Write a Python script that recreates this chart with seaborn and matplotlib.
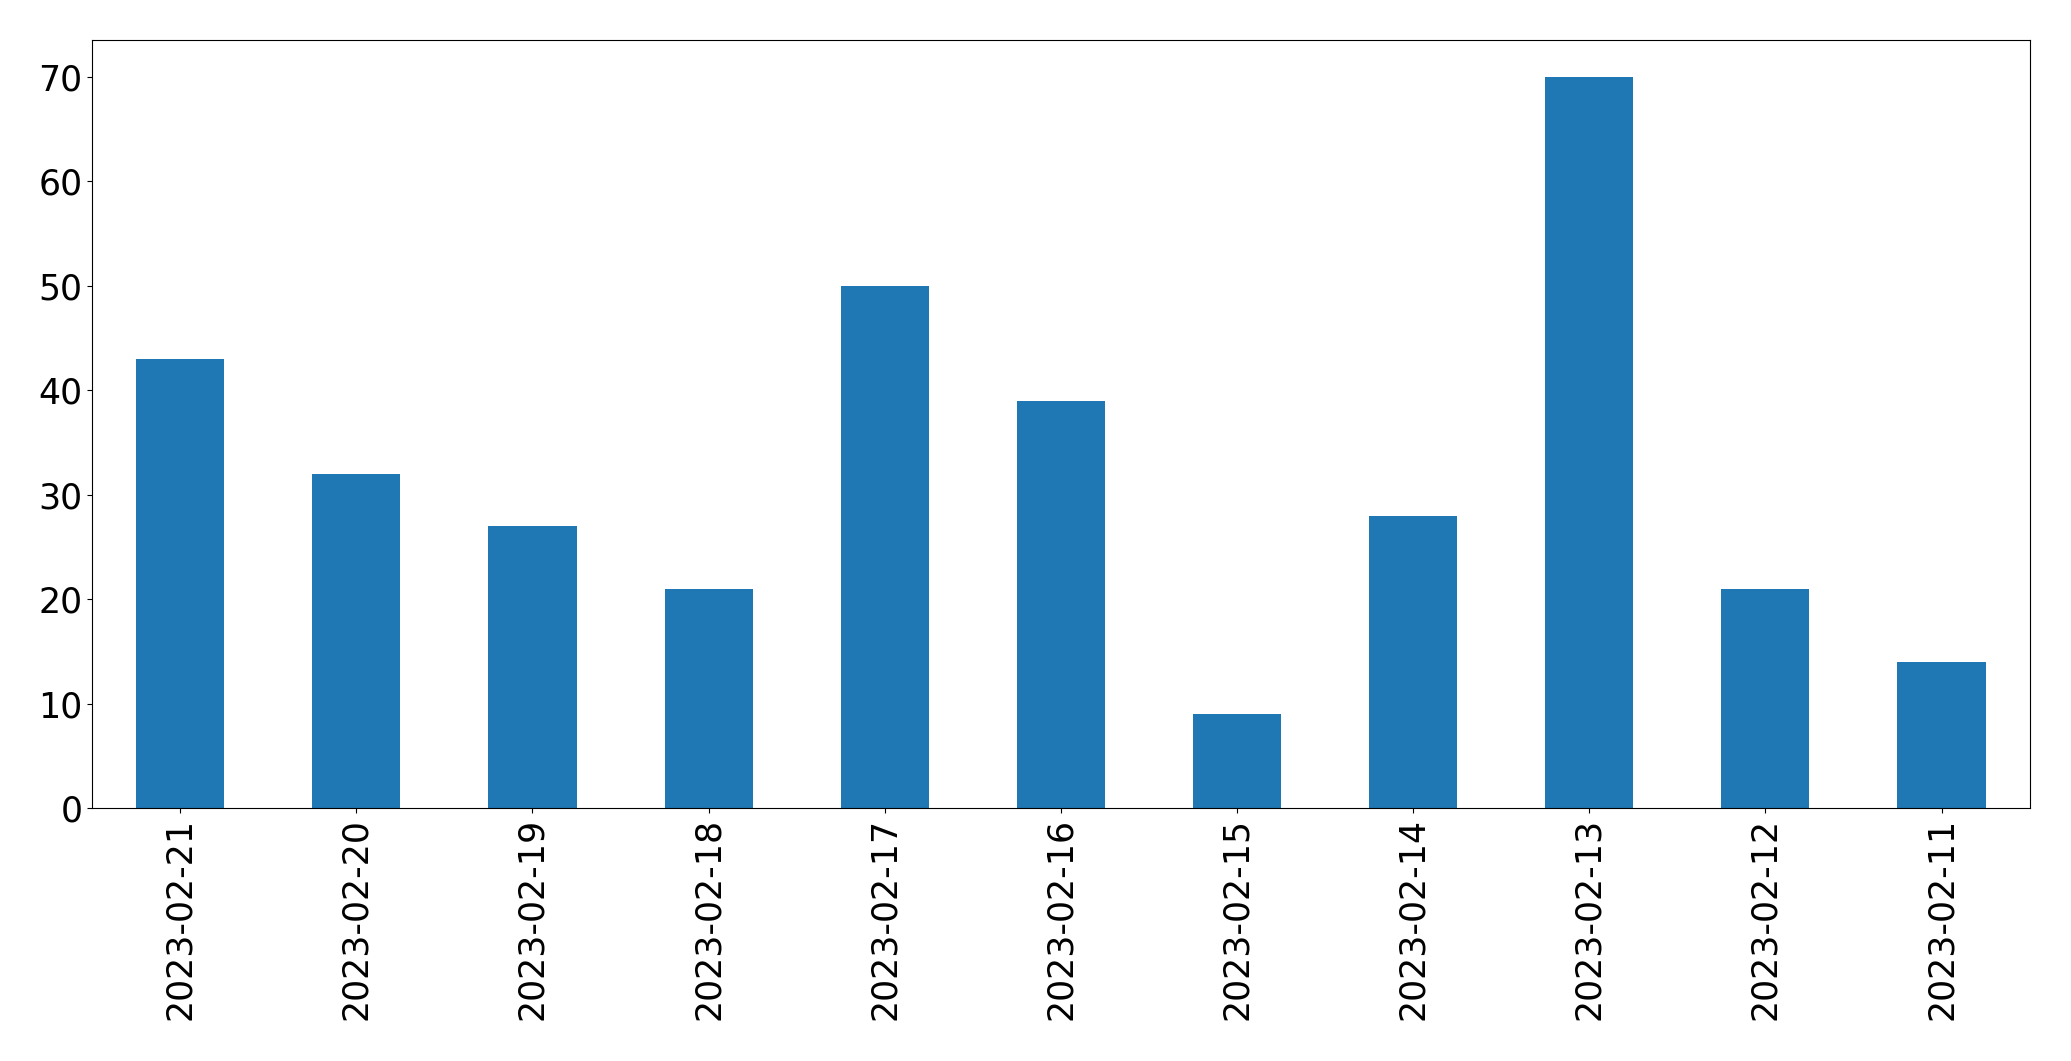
import matplotlib
matplotlib.use("Agg")
import matplotlib.pyplot as plt
import seaborn as sns
import pandas as pd

# daily counts, newest first as in the source chart
dates = ["2023-02-21", "2023-02-20", "2023-02-19", "2023-02-18", "2023-02-17",
         "2023-02-16", "2023-02-15", "2023-02-14", "2023-02-13", "2023-02-12",
         "2023-02-11"]
counts = [43, 32, 27, 21, 50, 39, 9, 28, 70, 21, 14]

df = pd.DataFrame({"date": dates, "count": counts})

sns.set_style("ticks", rc={"axes.edgecolor": "black", "axes.linewidth": 0.8,
                           "xtick.color": "black", "ytick.color": "black",
                           "text.color": "black", "axes.labelcolor": "black",
                           "xtick.major.width": 0.8, "ytick.major.width": 0.8})
plt.rcParams['font.family'] = ['DejaVu Sans']

fig, ax = plt.subplots(figsize=(20.71, 10.61), dpi=100)
sns.barplot(data=df, x="date", y="count", color="#1f77b4", saturation=1,
            width=0.5, linewidth=0, ax=ax)
ax.set_xlim(-0.5, len(dates) - 0.5)
ax.set_ylim(0, 73.5)
ax.set_xlabel("")
ax.set_ylabel("")
ax.tick_params(axis='both', labelsize=25)
plt.xticks(rotation=90)
fig.subplots_adjust(left=0.0445, right=0.98, top=0.962, bottom=0.238)
fig.savefig("out.png", dpi=100)
